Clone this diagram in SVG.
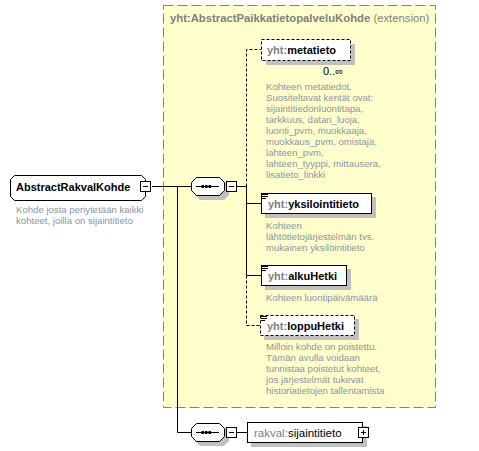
<svg xmlns="http://www.w3.org/2000/svg" width="479" height="451" viewBox="0 0 479 451">
<defs>
<style>
text{font-family:"Liberation Sans",Arial,sans-serif}
.nm{font-size:11px;font-weight:bold;fill:#000}
.ns{fill:#808080}
.ds{font-size:9.6px;fill:#8a96a2}
.box{fill:#fff;stroke:#000;stroke-width:1}
.dash{stroke-dasharray:3,2}
.sh{fill:#c0c0c0}
.ln{stroke:#000;stroke-width:1;fill:none}
.dl{stroke:#000;stroke-width:1;fill:none;stroke-dasharray:3,2}
.ic{stroke:#000;stroke-width:1}
</style>
</defs>
<rect width="479" height="451" fill="#fff"/>
<g id="extension">
<rect x="163.5" y="5.5" width="272" height="402" fill="#ffffcc" stroke="#808080" stroke-dasharray="10,4"/>
<text x="170" y="22" font-size="11.3px" fill="#808080"><tspan font-weight="bold">yht:AbstractPaikkatietopalveluKohde</tspan> (extension)</text>
</g>
<g id="connectors">
<path class="ln" d="M152,186.5H191M177.5,186.5V432.5H191M236,186.5H246.5M246.5,186.5V275.5M246.5,203.5H261M246.5,275.5H261M236,432.5H247"/>
<path class="dl" d="M246.5,186.5V49.5H261M246.5,275.5V325.5H260"/>
</g>
<g id="AbstractRakvalKohde">
<path class="box" d="M14.5,175.5H141.5L145.5,179.5V196.5L141.5,200.5H14.5L10.5,196.5V179.5Z"/>
<text class="nm" x="16" y="191">AbstractRakvalKohde</text>
<rect class="box" x="140.5" y="181.5" width="10" height="10"/>
<path class="ic" d="M143,186.5H148"/>
<text class="ds" x="16" y="213">Kohde josta periytetään kaikki</text>
<text class="ds" x="16" y="224">kohteet, joilla on sijaintitieto</text>
</g>
<g id="sequence1">
<path class="sh" d="M200,181H224L229,186V195L224,200H200L195,195V186Z"/>
<path class="box" d="M196.5,177.5H219.5L224.5,182.5V190.5L219.5,195.5H196.5L191.5,190.5V182.5Z"/>
<path class="ic" d="M196,186.5H219"/>
<rect x="201.5" y="185" width="2.5" height="3" fill="#000"/>
<rect x="205" y="185" width="2.5" height="3" fill="#000"/>
<rect x="208.5" y="185" width="2.5" height="3" fill="#000"/>
<rect class="box" x="226.5" y="181.5" width="10" height="10"/>
<path class="ic" d="M229,186.5H234"/>
</g>
<g id="metatieto">
<rect class="sh" x="266" y="44" width="89" height="21"/>
<rect class="box dash" x="261.5" y="39.5" width="89" height="21"/>
<text class="nm" x="267" y="54"><tspan class="ns">yht:</tspan>metatieto</text>
<text x="323" y="75" font-size="11px" fill="#000">0..∞</text>
<text class="ds"><tspan x="266" y="90">Kohteen metatiedot.</tspan><tspan x="266" y="101">Suositeltavat kentät ovat:</tspan><tspan x="266" y="112">sijaintitiedonluontitapa,</tspan><tspan x="266" y="123">tarkkuus, datan_luoja,</tspan><tspan x="266" y="134">luonti_pvm, muokkaaja,</tspan><tspan x="266" y="145">muokkaus_pvm, omistaja,</tspan><tspan x="266" y="156">lahteen_pvm,</tspan><tspan x="266" y="167">lahteen_tyyppi, mittausera,</tspan><tspan x="266" y="178">lisatieto_linkki</tspan></text>
</g>
<g id="yksilointitieto">
<rect class="sh" x="265" y="197" width="111" height="21"/>
<rect class="box" x="261.5" y="193.5" width="110" height="20"/>
<path class="ic" d="M262,194.5H268M262,196.5H268M262,198.5H266"/>
<text class="nm" x="268" y="208"><tspan class="ns">yht:</tspan>yksilointitieto</text>
<text class="ds"><tspan x="266" y="229">Kohteen</tspan><tspan x="266" y="240">lähtötietojärjestelmän  tvs.</tspan><tspan x="266" y="251">mukainen yksilöintitieto</tspan></text>
</g>
<g id="alkuHetki">
<rect class="sh" x="265" y="269" width="86" height="21"/>
<rect class="box" x="261.5" y="265.5" width="85" height="20"/>
<path class="ic" d="M262,266.5H268M262,268.5H268M262,270.5H266"/>
<text class="nm" x="268" y="280"><tspan class="ns">yht:</tspan>alkuHetki</text>
<text class="ds" x="266" y="301">Kohteen luontipäivämäärä</text>
</g>
<g id="loppuHetki">
<rect class="sh" x="264" y="319" width="95" height="21"/>
<rect class="box dash" x="260.5" y="315.5" width="94" height="20"/>
<path class="ic" d="M261,316.5H267M261,318.5H267M261,320.5H265"/>
<text class="nm" x="267" y="330"><tspan class="ns">yht:</tspan>loppuHetki</text>
<text class="ds"><tspan x="266" y="350">Milloin kohde on poistettu.</tspan><tspan x="266" y="361">Tämän avulla voidaan</tspan><tspan x="266" y="372">tunnistaa poistetut kohteet,</tspan><tspan x="266" y="383">jos järjestelmät tukevat</tspan><tspan x="266" y="394">historiatietojen tallentamista</tspan></text>
</g>
<g id="sequence2">
<path class="sh" d="M200,427H224L229,432V441L224,446H200L195,441V432Z"/>
<path class="box" d="M196.5,423.5H219.5L224.5,428.5V436.5L219.5,441.5H196.5L191.5,436.5V428.5Z"/>
<path class="ic" d="M196,432.5H219"/>
<rect x="201.5" y="431" width="2.5" height="3" fill="#000"/>
<rect x="205" y="431" width="2.5" height="3" fill="#000"/>
<rect x="208.5" y="431" width="2.5" height="3" fill="#000"/>
<rect class="box" x="226.5" y="427.5" width="10" height="10"/>
<path class="ic" d="M229,432.5H234"/>
</g>
<g id="sijaintitieto">
<rect class="sh" x="251" y="426" width="116" height="21"/>
<rect class="box" x="247.5" y="422.5" width="115" height="20"/>
<text x="254" y="437" font-size="11.5px" fill="#000"><tspan class="ns">rakval:</tspan>sijaintitieto</text>
<rect class="box" x="358.5" y="427.5" width="10" height="10"/>
<path class="ic" d="M361,432.5H366M363.5,430V435"/>
</g>
</svg>
